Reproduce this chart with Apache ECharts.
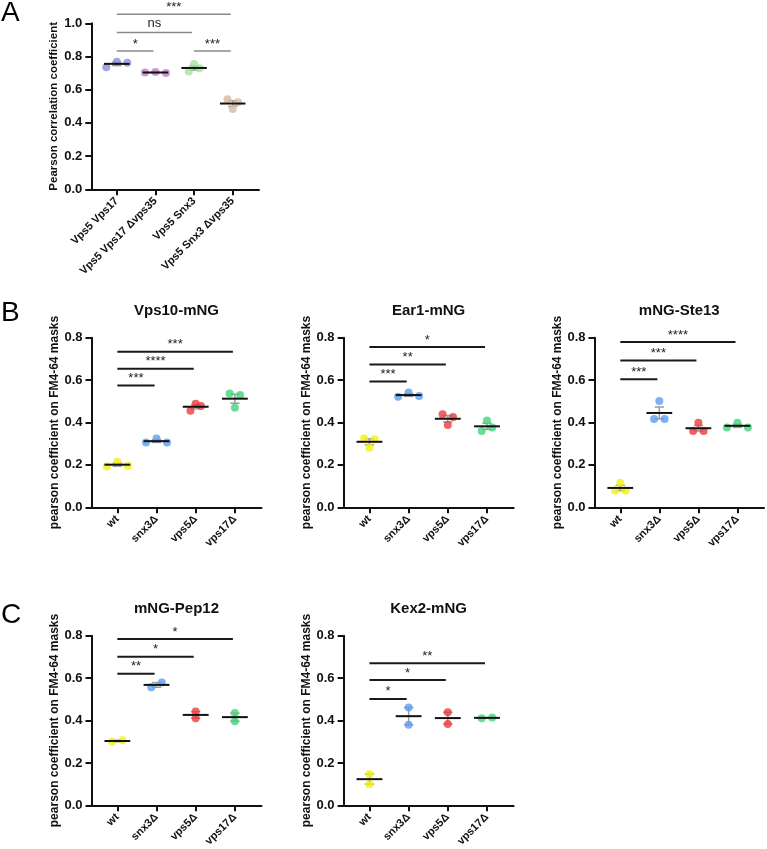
<!DOCTYPE html>
<html>
<head>
<meta charset="utf-8">
<title>pearson coefficient</title>
<script src="https://cdn.jsdelivr.net/npm/echarts@6/dist/echarts.min.js"></script>
<style>
  html, body { margin: 0; padding: 0; background: #fff; }
  #main { width: 767px; height: 849px; }
</style>
</head>
<body>
<div id="main"></div>
<script>
// ---- data ----
var catsA = ['Vps5 Vps17', 'Vps5 Vps17 \u0394vps35', 'Vps5 Snx3', 'Vps5 Snx3 \u0394vps35'];
var catsMut = ['wt', 'snx3\u0394', 'vps5\u0394', 'vps17\u0394'];

// one array per group, points listed left to right
var pointsA = [[0.735, 0.769, 0.763], [0.703, 0.707, 0.701], [0.709, 0.755, 0.729], [0.542, 0.484, 0.524]];
var pointsVps10 = [[0.192, 0.215, 0.196], [0.306, 0.324, 0.306], [0.456, 0.489, 0.478], [0.537, 0.470, 0.530]];
var pointsEar1 = [[0.325, 0.281, 0.321], [0.522, 0.541, 0.525], [0.439, 0.388, 0.426], [0.360, 0.410, 0.376]];
var pointsSte13 = [[0.079, 0.116, 0.079], [0.417, 0.501, 0.417], [0.360, 0.399, 0.360], [0.377, 0.399, 0.377]];
var pointsPep12 = [[0.300, 0.307], [0.557, 0.579], [0.442, 0.411], [0.435, 0.397]];
var pointsKex2 = [[0.147, 0.100], [0.461, 0.380], [0.439, 0.384], [0.411, 0.414]];

// significance: [from group, to group, height, label]
var sigA = [[1, 2, 0.833, '*'], [1, 3, 0.944, 'ns'], [3, 4, 0.833, '***'], [1, 4, 1.054, '***']];
var sigVps10 = [[1, 2, 0.575, '***'], [1, 3, 0.654, '****'], [1, 4, 0.734, '***']];
var sigEar1 = [[1, 2, 0.593, '***'], [1, 3, 0.674, '**'], [1, 4, 0.756, '*']];
var sigSte13 = [[1, 2, 0.604, '***'], [1, 3, 0.692, '***'], [1, 4, 0.780, '****']];
var sigPep12 = [[1, 2, 0.620, '**'], [1, 3, 0.701, '*'], [1, 4, 0.784, '*']];
var sigKex2 = [[1, 2, 0.502, '*'], [1, 3, 0.591, '*'], [1, 4, 0.670, '**']];

var colorsA = ['#8b90d9', '#c17fc2', '#9fe59f', '#d9b99c'];
var colorsMut = ['#f2f20c', '#5b9ef4', '#ef3b3b', '#44d57c'];

var FONT = '"Liberation Sans", Arial, Helvetica, sans-serif';
var XMIN = 0.34, XMAX = 4.68;

var panels = [
  { cats: catsA, pts: pointsA, sig: sigA, colors: colorsA, yMax: 1.0, yName: 'Pearson correlation coefficient', nameSize: 11.5,
    title: '', left: 91.3, top: 23.3, width: 167.7, height: 166, sigColor: '#8a8a8a', sigWidth: 1.5 },
  { cats: catsMut, pts: pointsVps10, sig: sigVps10, colors: colorsMut, yMax: 0.8, yName: 'pearson coefficient on FM4-64 masks', nameSize: 12,
    title: 'Vps10-mNG', left: 91.5, top: 337.7, width: 170, height: 169.6, sigColor: '#1a1a1a', sigWidth: 2 },
  { cats: catsMut, pts: pointsEar1, sig: sigEar1, colors: colorsMut, yMax: 0.8, yName: 'pearson coefficient on FM4-64 masks', nameSize: 12,
    title: 'Ear1-mNG', left: 343.6, top: 337.7, width: 170, height: 169.6, sigColor: '#1a1a1a', sigWidth: 2 },
  { cats: catsMut, pts: pointsSte13, sig: sigSte13, colors: colorsMut, yMax: 0.8, yName: 'pearson coefficient on FM4-64 masks', nameSize: 12,
    title: 'mNG-Ste13', left: 594.5, top: 337.7, width: 169.5, height: 169.6, sigColor: '#1a1a1a', sigWidth: 2 },
  { cats: catsMut, pts: pointsPep12, sig: sigPep12, colors: colorsMut, yMax: 0.8, yName: 'pearson coefficient on FM4-64 masks', nameSize: 12,
    title: 'mNG-Pep12', left: 91.5, top: 635.7, width: 170, height: 170, sigColor: '#1a1a1a', sigWidth: 2 },
  { cats: catsMut, pts: pointsKex2, sig: sigKex2, colors: colorsMut, yMax: 0.8, yName: 'pearson coefficient on FM4-64 masks', nameSize: 12,
    title: 'Kex2-mNG', left: 343.6, top: 635.7, width: 170, height: 170, sigColor: '#1a1a1a', sigWidth: 2 }
];

// points that sit at about the same height are spread sideways, like prism does
function spread(vals, rowTol, step) {
  var order = vals.map(function (v, i) { return i; }).sort(function (a, b) { return vals[a] - vals[b]; });
  var rows = [], cur = null;
  order.forEach(function (i) {
    if (cur && vals[i] - vals[cur[0]] < rowTol) cur.push(i);
    else { cur = [i]; rows.push(cur); }
  });
  var off = [];
  rows.forEach(function (r) {
    r.sort(function (a, b) { return a - b; });
    r.forEach(function (i, k) { off[i] = (k - (r.length - 1) / 2) * step; });
  });
  return off;
}

function meanSem(v) {
  var n = v.length, m = 0, ss = 0;
  v.forEach(function (x) { m += x; });
  m = m / n;
  v.forEach(function (x) { ss += (x - m) * (x - m); });
  return [m, Math.sqrt(ss / (n - 1)) / Math.sqrt(n)];
}

var grids = [], xAxes = [], yAxes = [], series = [], graphics = [];

panels.forEach(function (p, gi) {
  grids.push({ left: p.left, top: p.top, width: p.width, height: p.height, containLabel: false });
  var cats = p.cats;
  xAxes.push({
    gridIndex: gi, type: 'value', min: XMIN, max: XMAX,
    splitLine: { show: false },
    axisLine: { show: true, lineStyle: { color: '#111', width: 2 } },
    axisTick: { show: true, customValues: [1, 2, 3, 4], length: 6, lineStyle: { color: '#111', width: 2 } },
    axisLabel: {
      customValues: [1, 2, 3, 4], rotate: 45, margin: 10,
      fontFamily: FONT, fontWeight: 'bold', fontSize: 11, color: '#111',
      formatter: function (v) { return cats[Math.round(v) - 1] || ''; }
    }
  });
  yAxes.push({
    gridIndex: gi, type: 'value', min: 0, max: p.yMax, interval: 0.2,
    name: p.yName, nameLocation: 'middle', nameGap: 31,
    nameTextStyle: { fontFamily: FONT, fontWeight: 'bold', fontSize: p.nameSize, color: '#111' },
    splitLine: { show: false },
    axisLine: { show: true, lineStyle: { color: '#111', width: 2 } },
    axisTick: { show: true, length: 6, lineStyle: { color: '#111', width: 2 } },
    axisLabel: {
      margin: 9, fontFamily: FONT, fontWeight: 'bold', fontSize: 13, color: '#111',
      formatter: function (v) { return v.toFixed(1); }
    }
  });

  var pxPerY = p.height / p.yMax;
  var pxPerX = p.width / (XMAX - XMIN);
  var dots = [], stats = [];
  p.pts.forEach(function (vals, k) {
    var off = spread(vals, 6 / pxPerY, 10.5 / pxPerX);
    vals.forEach(function (v, i) {
      dots.push({ value: [k + 1 + off[i], v], itemStyle: { color: p.colors[k] } });
    });
    var ms = meanSem(vals);
    stats.push([k + 1, ms[0], ms[1]]);
  });

  // error bars (SEM)
  series.push({
    type: 'custom', xAxisIndex: gi, yAxisIndex: gi, z: 1, silent: true,
    data: stats,
    renderItem: function (params, api) {
      var x = api.value(0), m = api.value(1), s = api.value(2);
      var a = api.coord([x, m + s]), b = api.coord([x, m - s]);
      var cap = api.size([0.12, 0])[0];
      var st = { stroke: '#9c9c9c', lineWidth: 1.5 };
      return { type: 'group', children: [
        { type: 'line', shape: { x1: a[0], y1: a[1], x2: b[0], y2: b[1] }, style: st },
        { type: 'line', shape: { x1: a[0] - cap, y1: a[1], x2: a[0] + cap, y2: a[1] }, style: st },
        { type: 'line', shape: { x1: b[0] - cap, y1: b[1], x2: b[0] + cap, y2: b[1] }, style: st }
      ] };
    }
  });

  series.push({
    type: 'scatter', xAxisIndex: gi, yAxisIndex: gi, z: 2, silent: true,
    symbol: 'circle', symbolSize: 8, data: dots
  });

  // mean line
  series.push({
    type: 'custom', xAxisIndex: gi, yAxisIndex: gi, z: 3, silent: true,
    data: stats,
    renderItem: function (params, api) {
      var c = api.coord([api.value(0), api.value(1)]);
      var w = api.size([0.33, 0])[0];
      return { type: 'line', shape: { x1: c[0] - w, y1: c[1], x2: c[0] + w, y2: c[1] },
        style: { stroke: '#111', lineWidth: 2 } };
    }
  });

  // significance brackets
  var sig = p.sig;
  series.push({
    type: 'custom', xAxisIndex: gi, yAxisIndex: gi, z: 4, silent: true, clip: false,
    data: sig.map(function (s) { return [s[0], s[1], s[2]]; }),
    renderItem: function (params, api) {
      var a = api.coord([api.value(0), api.value(2)]);
      var b = api.coord([api.value(1) - 0.05, api.value(2)]);
      var lbl = sig[params.dataIndex][3];
      return { type: 'group', children: [
        { type: 'line', shape: { x1: a[0], y1: a[1], x2: b[0], y2: b[1] },
          style: { stroke: p.sigColor, lineWidth: p.sigWidth } },
        { type: 'text', style: { text: lbl, x: (a[0] + b[0]) / 2, y: a[1] - (lbl === 'ns' ? 9 : 7),
          align: 'center', verticalAlign: 'middle', fill: '#222',
          font: '13px ' + FONT } }
      ] };
    }
  });

  if (p.title) {
    graphics.push({ type: 'text', x: p.left + p.width / 2, y: p.top - 27,
      style: { text: p.title, align: 'center', verticalAlign: 'middle', fill: '#111',
        font: 'bold 15px ' + FONT } });
  }
});

[['A', 13], ['B', 313], ['C', 615]].forEach(function (l) {
  graphics.push({ type: 'text', x: 1, y: l[1],
    style: { text: l[0], align: 'left', verticalAlign: 'middle', fill: '#000', font: '28px ' + FONT } });
});

var myChart = echarts.init(document.getElementById('main'));
myChart.setOption({
  backgroundColor: '#fff',
  animation: false,
  grid: grids,
  xAxis: xAxes,
  yAxis: yAxes,
  series: series,
  graphic: graphics
});
</script>
</body>
</html>
